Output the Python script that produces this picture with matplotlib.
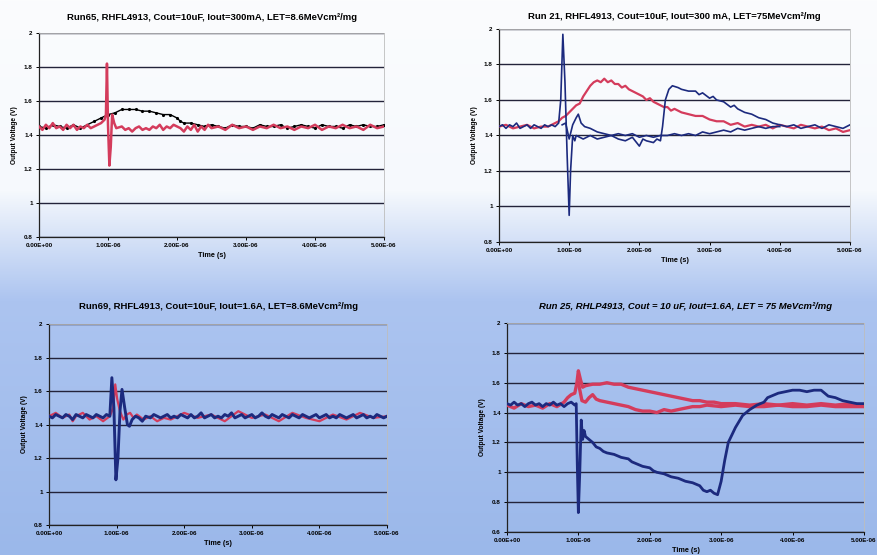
import numpy as np
import matplotlib
matplotlib.use("Agg")
import matplotlib.pyplot as plt
from matplotlib.ticker import FuncFormatter, MultipleLocator

# time in microseconds, voltage in volts
tl_black = [(0.0,1.45),(0.1,1.44),(0.2,1.46),(0.3,1.45),(0.4,1.44),(0.5,1.46),(0.6,1.44),(0.7,1.46),
            (0.8,1.48),(0.9,1.50),(1.0,1.52),(1.1,1.53),(1.2,1.55),(1.3,1.55),(1.4,1.55),(1.5,1.54),
            (1.6,1.54),(1.7,1.53),(1.8,1.52),(1.9,1.52),(2.0,1.50),(2.05,1.48),(2.1,1.47),(2.2,1.47),
            (2.3,1.46),(2.4,1.45),(2.5,1.46),(2.6,1.45),(2.7,1.44),(2.8,1.46),(2.9,1.45),(3.0,1.45),
            (3.1,1.44),(3.2,1.46),(3.3,1.45),(3.4,1.45),(3.5,1.46),(3.6,1.44),(3.7,1.45),(3.8,1.46),
            (3.9,1.45),(4.0,1.44),(4.1,1.46),(4.2,1.45),(4.3,1.45),(4.4,1.44),(4.5,1.46),(4.6,1.45),
            (4.7,1.46),(4.8,1.45),(4.9,1.45),(5.0,1.46)]
tl_red = [(0.0,1.45),(0.05,1.43),(0.1,1.46),(0.15,1.44),(0.2,1.47),(0.25,1.44),(0.3,1.45),(0.35,1.43),
          (0.4,1.46),(0.45,1.44),(0.5,1.46),(0.55,1.43),(0.6,1.45),(0.65,1.44),(0.7,1.46),(0.75,1.44),
          (0.8,1.45),(0.85,1.46),(0.9,1.47),(0.95,1.49),(0.97,1.52),(0.985,1.82),(1.0,1.46),(1.02,1.22),
          (1.04,1.33),(1.06,1.52),(1.09,1.47),(1.12,1.44),(1.2,1.45),(1.25,1.43),(1.3,1.44),(1.35,1.42),
          (1.4,1.44),(1.45,1.45),(1.5,1.43),(1.55,1.44),(1.6,1.43),(1.65,1.45),(1.7,1.44),(1.75,1.46),
          (1.8,1.43),(1.85,1.45),(1.9,1.44),(1.95,1.46),(2.0,1.45),(2.05,1.44),(2.1,1.42),(2.15,1.45),
          (2.2,1.43),(2.25,1.46),(2.3,1.42),(2.35,1.45),(2.4,1.43),(2.45,1.46),(2.5,1.44),(2.6,1.45),
          (2.7,1.43),(2.8,1.46),(2.9,1.44),(3.0,1.45),(3.1,1.43),(3.2,1.45),(3.3,1.44),(3.4,1.46),
          (3.5,1.44),(3.6,1.45),(3.7,1.43),(3.8,1.45),(3.9,1.44),(4.0,1.46),(4.1,1.43),(4.2,1.45),
          (4.3,1.44),(4.4,1.46),(4.5,1.44),(4.6,1.45),(4.7,1.43),(4.8,1.46),(4.9,1.44),(5.0,1.45)]

tr_red = [(0.0,1.45),(0.1,1.46),(0.2,1.44),(0.3,1.45),(0.4,1.46),(0.5,1.44),(0.6,1.45),(0.7,1.45),
          (0.8,1.47),(0.85,1.48),(0.9,1.50),(0.95,1.51),(1.0,1.53),(1.05,1.55),(1.1,1.57),(1.15,1.58),
          (1.2,1.62),(1.25,1.65),(1.3,1.68),(1.35,1.70),(1.4,1.71),(1.45,1.70),(1.5,1.72),(1.55,1.70),
          (1.6,1.71),(1.65,1.69),(1.7,1.69),(1.75,1.67),(1.8,1.68),(1.85,1.66),(1.9,1.65),(1.95,1.64),
          (2.0,1.63),(2.05,1.62),(2.1,1.60),(2.15,1.61),(2.2,1.59),(2.25,1.58),(2.3,1.57),(2.35,1.56),
          (2.4,1.56),(2.45,1.54),(2.5,1.55),(2.6,1.53),(2.7,1.52),(2.8,1.51),(2.9,1.51),(3.0,1.49),
          (3.1,1.48),(3.2,1.48),(3.3,1.46),(3.4,1.47),(3.5,1.45),(3.6,1.46),(3.7,1.45),(3.8,1.46),
          (3.9,1.44),(4.0,1.46),(4.1,1.45),(4.2,1.44),(4.3,1.46),(4.4,1.45),(4.5,1.44),(4.6,1.45),
          (4.7,1.43),(4.8,1.44),(4.9,1.42),(5.0,1.43)]
tr_blue_a = [(0.0,1.45),(0.05,1.46),(0.1,1.44),(0.15,1.46),(0.2,1.45),(0.25,1.47),(0.3,1.44),(0.35,1.45),
             (0.4,1.46),(0.45,1.44),(0.5,1.46),(0.55,1.45),(0.6,1.44),(0.65,1.46),(0.7,1.45),(0.75,1.46),
             (0.8,1.45),(0.85,1.47),(0.88,1.60),(0.91,1.97),(0.94,1.70),(0.97,1.30),(1.0,0.95),(1.02,1.20),
             (1.05,1.40),(1.08,1.37),(1.1,1.40),(1.15,1.39),(1.2,1.38),(1.3,1.40),(1.4,1.38),(1.5,1.39),
             (1.6,1.40),(1.7,1.38),(1.8,1.37),(1.9,1.39),(2.0,1.34),(2.05,1.38),(2.1,1.37),(2.2,1.36),
             (2.25,1.38),(2.3,1.37),(2.33,1.45),(2.37,1.60),(2.42,1.66),(2.47,1.68),(2.55,1.67),(2.6,1.66),
             (2.7,1.65),(2.8,1.65),(2.85,1.63),(2.9,1.64),(3.0,1.61),(3.05,1.62),(3.1,1.60),(3.2,1.59),
             (3.3,1.56),(3.35,1.57),(3.4,1.55),(3.5,1.53),(3.6,1.52),(3.7,1.50),(3.8,1.49),(3.9,1.47),
             (4.0,1.46),(4.1,1.45),(4.2,1.46),(4.3,1.44),(4.4,1.45),(4.5,1.46),(4.6,1.44),(4.7,1.46),
             (4.8,1.45),(4.9,1.44),(5.0,1.46)]
tr_blue_b = [(0.9,1.46),(0.95,1.47),(1.0,1.38),(1.05,1.46),(1.1,1.50),(1.13,1.52),(1.17,1.47),(1.22,1.45),
             (1.3,1.44),(1.4,1.42),(1.5,1.41),(1.6,1.40),(1.7,1.41),(1.8,1.40),(1.9,1.41),(2.0,1.39),
             (2.1,1.40),(2.2,1.39),(2.3,1.40),(2.4,1.40),(2.5,1.41),(2.6,1.40),(2.7,1.41),(2.8,1.40),
             (2.9,1.42),(3.0,1.41),(3.1,1.42),(3.2,1.43),(3.3,1.42),(3.4,1.44),(3.5,1.43),(3.6,1.44),
             (3.7,1.45),(3.8,1.44),(3.9,1.45),(4.0,1.45)]

bl_blue = [(0.0,1.45),(0.05,1.44),(0.1,1.46),(0.15,1.45),(0.2,1.44),(0.25,1.46),(0.3,1.45),(0.35,1.43),
           (0.4,1.46),(0.45,1.45),(0.5,1.44),(0.55,1.46),(0.6,1.45),(0.65,1.44),(0.7,1.46),(0.75,1.45),
           (0.8,1.44),(0.85,1.46),(0.9,1.45),(0.93,1.68),(0.96,1.50),(0.99,1.07),(1.02,1.20),(1.05,1.48),
           (1.08,1.61),(1.12,1.50),(1.16,1.40),(1.19,1.39),(1.23,1.43),(1.28,1.45),(1.33,1.44),(1.38,1.42),
           (1.43,1.45),(1.5,1.44),(1.55,1.46),(1.6,1.45),(1.65,1.44),(1.7,1.45),(1.75,1.46),(1.8,1.44),
           (1.85,1.45),(1.9,1.44),(1.95,1.46),(2.0,1.45),(2.05,1.44),(2.1,1.46),(2.15,1.44),(2.2,1.45),
           (2.25,1.47),(2.3,1.44),(2.35,1.45),(2.4,1.46),(2.45,1.44),(2.5,1.45),(2.55,1.44),(2.6,1.46),
           (2.65,1.45),(2.7,1.47),(2.75,1.44),(2.8,1.45),(2.85,1.46),(2.9,1.44),(2.95,1.45),(3.0,1.46),
           (3.05,1.44),(3.1,1.45),(3.15,1.47),(3.2,1.45),(3.25,1.44),(3.3,1.46),(3.35,1.45),(3.4,1.44),
           (3.45,1.46),(3.5,1.45),(3.55,1.44),(3.6,1.46),(3.65,1.45),(3.7,1.44),(3.75,1.46),(3.8,1.45),
           (3.85,1.44),(3.9,1.45),(3.95,1.46),(4.0,1.44),(4.05,1.45),(4.1,1.46),(4.15,1.44),(4.2,1.45),
           (4.25,1.44),(4.3,1.46),(4.35,1.45),(4.4,1.44),(4.45,1.45),(4.5,1.46),(4.55,1.44),(4.6,1.45),
           (4.65,1.46),(4.7,1.44),(4.75,1.45),(4.8,1.44),(4.85,1.46),(4.9,1.45),(4.95,1.44),(5.0,1.45)]
bl_red = [(0.0,1.45),(0.1,1.47),(0.2,1.44),(0.3,1.46),(0.35,1.42),(0.4,1.45),(0.5,1.47),(0.6,1.43),
          (0.7,1.45),(0.8,1.42),(0.9,1.45),(0.95,1.50),(0.98,1.64),(1.01,1.55),(1.05,1.48),(1.1,1.43),
          (1.15,1.46),(1.2,1.47),(1.25,1.44),(1.3,1.46),(1.4,1.43),(1.5,1.45),(1.6,1.42),(1.7,1.44),
          (1.8,1.43),(1.9,1.45),(2.0,1.47),(2.2,1.44),(2.4,1.46),(2.6,1.42),(2.8,1.48),(3.0,1.44),
          (3.2,1.46),(3.4,1.42),(3.6,1.47),(3.8,1.44),(4.0,1.42),(4.2,1.46),(4.4,1.43),(4.6,1.47),
          (4.8,1.44),(5.0,1.45)]

br_blue = [(0.0,1.46),(0.05,1.45),(0.1,1.47),(0.15,1.45),(0.2,1.46),(0.25,1.44),(0.3,1.46),(0.35,1.47),
           (0.4,1.45),(0.45,1.46),(0.5,1.44),(0.55,1.46),(0.6,1.45),(0.65,1.47),(0.7,1.45),(0.75,1.46),
           (0.8,1.44),(0.85,1.46),(0.9,1.47),(0.95,1.45),(0.97,1.46),(0.985,1.05),(1.0,0.73),(1.02,1.00),
           (1.04,1.35),(1.06,1.22),(1.08,1.28),(1.1,1.24),(1.15,1.22),(1.2,1.20),(1.25,1.17),(1.3,1.16),
           (1.35,1.14),(1.4,1.13),(1.5,1.12),(1.6,1.10),(1.7,1.09),(1.75,1.07),(1.8,1.06),(1.9,1.04),
           (2.0,1.03),(2.05,1.01),(2.1,1.00),(2.2,0.99),(2.3,0.97),(2.4,0.96),(2.5,0.94),(2.6,0.93),
           (2.7,0.91),(2.75,0.88),(2.8,0.87),(2.85,0.88),(2.9,0.86),(2.95,0.85),(3.0,0.94),(3.05,1.08),
           (3.1,1.20),(3.15,1.25),(3.2,1.30),(3.25,1.34),(3.3,1.38),(3.35,1.40),(3.4,1.42),(3.5,1.45),
           (3.6,1.47),(3.65,1.50),(3.7,1.51),(3.8,1.53),(3.9,1.54),(4.0,1.55),(4.1,1.55),(4.2,1.54),
           (4.3,1.55),(4.4,1.55),(4.45,1.53),(4.5,1.51),(4.6,1.50),(4.7,1.48),(4.8,1.47),(4.9,1.46),
           (5.0,1.46)]
br_red_up = [(0.0,1.45),(0.1,1.43),(0.2,1.46),(0.3,1.44),(0.4,1.45),(0.5,1.43),(0.6,1.46),(0.7,1.44),
             (0.8,1.47),(0.85,1.50),(0.9,1.52),(0.95,1.53),(0.98,1.60),(1.0,1.68),(1.03,1.62),(1.06,1.57),
             (1.1,1.58),(1.2,1.59),(1.3,1.59),(1.4,1.60),(1.5,1.59),(1.6,1.59),(1.7,1.57),(1.8,1.56),
             (1.9,1.55),(2.0,1.54),(2.1,1.53),(2.2,1.52),(2.3,1.51),(2.4,1.50),(2.5,1.49),(2.6,1.48),
             (2.7,1.48),(2.8,1.47),(2.9,1.47),(3.0,1.46),(3.2,1.46),(3.4,1.45),(3.6,1.46),(3.8,1.45),
             (4.0,1.46),(4.2,1.45),(4.4,1.46),(4.6,1.45),(4.8,1.46),(5.0,1.45)]
br_red_low = [(1.0,1.60),(1.05,1.48),(1.1,1.47),(1.15,1.50),(1.2,1.52),(1.25,1.49),(1.3,1.48),(1.4,1.47),
              (1.5,1.46),(1.6,1.45),(1.7,1.44),(1.8,1.42),(1.9,1.41),(2.0,1.41),(2.1,1.40),(2.2,1.42),
              (2.3,1.41),(2.4,1.42),(2.5,1.43),(2.6,1.44),(2.7,1.44),(2.8,1.45),(3.0,1.44),(3.2,1.45),
              (3.4,1.44),(3.6,1.44),(3.8,1.45),(4.0,1.44),(4.2,1.44),(4.4,1.45),(4.6,1.44),(4.8,1.44),
              (5.0,1.44)]

titles = ["Run65, RHFL4913, Cout=10uF, Iout=300mA, LET=8.6MeVcm²/mg",
          "Run 21, RHFL4913, Cout=10uF, Iout=300 mA, LET=75MeVcm²/mg",
          "Run69, RHFL4913, Cout=10uF, Iout=1.6A, LET=8.6MeVcm²/mg",
          "Run 25, RHLP4913, Cout = 10 uF, Iout=1.6A, LET = 75 MeVcm²/mg"]
ymins = [0.8, 0.8, 0.8, 0.6]

RED = "#d43c5c"
BLUE = "#1c2a7e"

plt.rcParams['font.family'] = ['Liberation Sans', 'DejaVu Sans']

fig = plt.figure(figsize=(8.78, 5.55), dpi=100)

# scanned paper background: white on top, bluish lower half
bg = fig.add_axes([0, 0, 1, 1], zorder=-5)
rows = np.arange(555)
r = np.interp(rows, [0, 190, 300, 555], [251, 246, 172, 155])
g = np.interp(rows, [0, 190, 300, 555], [252, 249, 196, 184])
b = np.interp(rows, [0, 190, 300, 555], [253, 253, 240, 234])
img = np.stack([r, g, b], axis=1)[:, None, :].repeat(878, axis=1) / 255.0
bg.imshow(img, aspect='auto', extent=[0, 1, 0, 1])
bg.axis('off')

boxes = [[0.0444, 0.573, 0.393, 0.3676],
         [0.5683, 0.564, 0.3998, 0.3838],
         [0.0558, 0.054, 0.385, 0.362],
         [0.5774, 0.0414, 0.4066, 0.3766]]
title_pads = [9, 7, 11, 10]

traces = [
    [(tl_black, 'k', 1.0, '.'), (tl_red, RED, 1.8, None)],
    [(tr_red, RED, 1.6, None), (tr_blue_b, BLUE, 1.2, None), (tr_blue_a, BLUE, 1.2, None)],
    [(bl_red, RED, 1.6, None), (bl_blue, BLUE, 2.1, None)],
    [(br_red_low, RED, 2.4, None), (br_red_up, RED, 2.4, None), (br_blue, BLUE, 2.0, None)],
]

for i in range(4):
    ax = fig.add_axes(boxes[i])
    ax.patch.set_alpha(0)
    for pts, col, lw, mk in traces[i]:
        t = np.array([p[0] for p in pts]) * 1e-6
        v = np.array([p[1] for p in pts])
        if mk:
            ax.plot(t, v, color=col, linewidth=lw, marker=mk, markersize=2.5, zorder=3)
        else:
            ax.plot(t, v, color=col, linewidth=lw, zorder=3)
    ax.set_xlim(0, 5e-6)
    ax.set_ylim(ymins[i], 2)
    ax.xaxis.set_major_locator(MultipleLocator(1e-6))
    ax.yaxis.set_major_locator(MultipleLocator(0.2))
    ax.xaxis.set_major_formatter(FuncFormatter(lambda x, p: '{:.2E}'.format(x)))
    ax.yaxis.set_major_formatter(FuncFormatter(lambda y, p: '{:g}'.format(round(y, 1))))
    ax.grid(axis='y', color='#23233a', linewidth=1.0, zorder=1)
    ax.set_axisbelow(True)
    for s in ['top', 'right']:
        ax.spines[s].set_color('#bdbdbd')
        ax.spines[s].set_linewidth(0.6)
    for s in ['left', 'bottom']:
        ax.spines[s].set_color('#222222')
        ax.spines[s].set_linewidth(0.9)
    ax.tick_params(labelsize=4.5, length=2.5, width=0.7, pad=2)
    for lab in ax.get_xticklabels() + ax.get_yticklabels():
        lab.set_fontweight('bold')
    style = 'italic' if i == 3 else 'normal'
    ax.set_title(titles[i], fontsize=6.8, fontweight='bold', style=style, pad=title_pads[i])
    ax.set_xlabel("Time (s)", fontsize=5.2, fontweight='bold', labelpad=3)
    ax.set_ylabel("Output Voltage (V)", fontsize=4.8, fontweight='bold', labelpad=4)

fig.savefig("out.png", dpi=100)
